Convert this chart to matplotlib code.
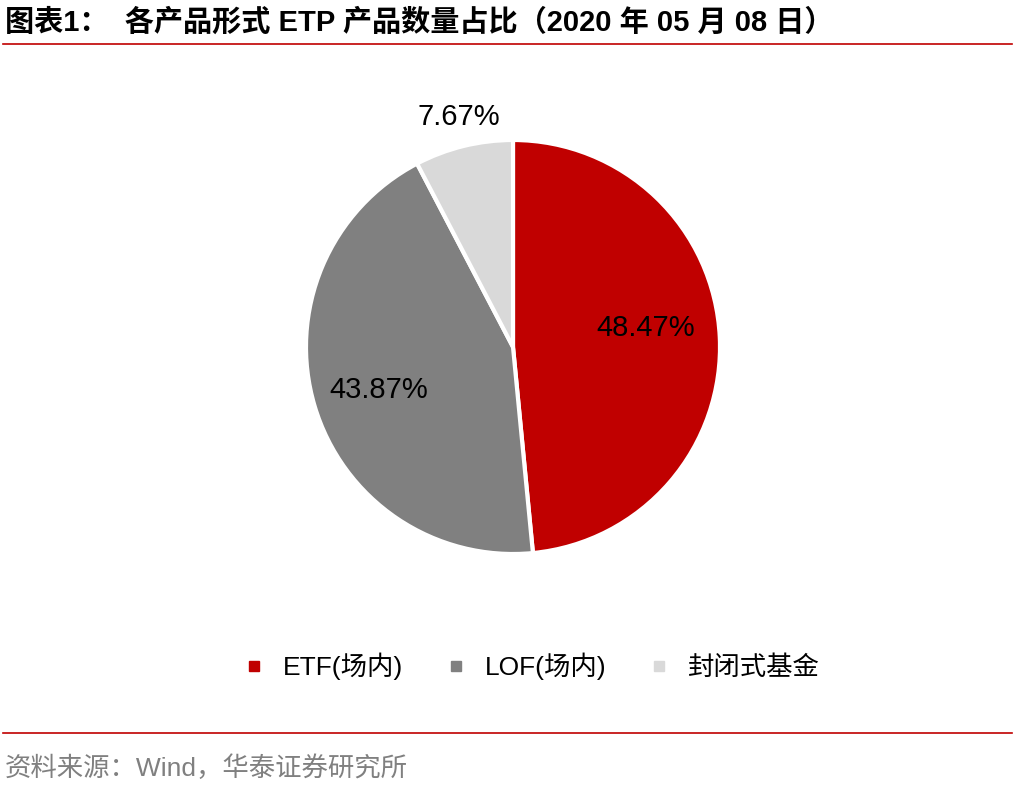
import matplotlib.pyplot as plt
from matplotlib.lines import Line2D

plt.rcParams['font.family'] = ['Liberation Sans', 'Noto Sans CJK SC', 'DejaVu Sans']

labels = ["ETF(场内)", "LOF(场内)", "封闭式基金"]
shares = [48.47, 43.87, 7.67]
colors = ["#C00000", "#808080", "#D9D9D9"]
RED = "#C00000"

fig = plt.figure(figsize=(10.17, 7.89), dpi=100)

# pie axes placed by pixel geometry of the reference
cx, cy, r = 513 / 1017, 1 - 347 / 789, 207
w, h = 2 * r / 1017, 2 * r / 789
ax = fig.add_axes([cx - w / 2, cy - h / 2, w, h])
wedges, _ = ax.pie(shares, colors=colors, startangle=90, counterclock=False,
                   radius=1.0, wedgeprops=dict(edgecolor="white", linewidth=3))
ax.set_xlim(-1, 1); ax.set_ylim(-1, 1); ax.set_aspect("equal")

label_pos = [(0.64, 0.09), (-0.65, -0.21), (-0.26, 1.11)]
for (x, y), v in zip(label_pos, shares):
    ax.text(x, y, f"{v:.2f}%", ha="center", va="center", fontsize=21, color="black")

# title and rules
fig.text(0.005, 0.972, "图表1：  各产品形式 ETP 产品数量占比（2020 年 05 月 08 日）",
         fontsize=21, weight="bold", va="center", ha="left")
fig.add_artist(Line2D([0.003, 0.995], [0.944, 0.944], color=RED, lw=1.2))
fig.add_artist(Line2D([0.003, 0.995], [0.071, 0.071], color=RED, lw=1.2))
fig.text(0.005, 0.027, "资料来源：Wind，华泰证券研究所", fontsize=19, color="#808080",
         va="center", ha="left")

handles = [Line2D([], [], marker="s", ls="", color=c, markersize=7) for c in colors]
fig.legend(handles, labels, loc="center", bbox_to_anchor=(0.515, 0.155), ncol=3,
           frameon=False, fontsize=19, handletextpad=0.1, columnspacing=1.0)

fig.savefig("out.png", dpi=100)
